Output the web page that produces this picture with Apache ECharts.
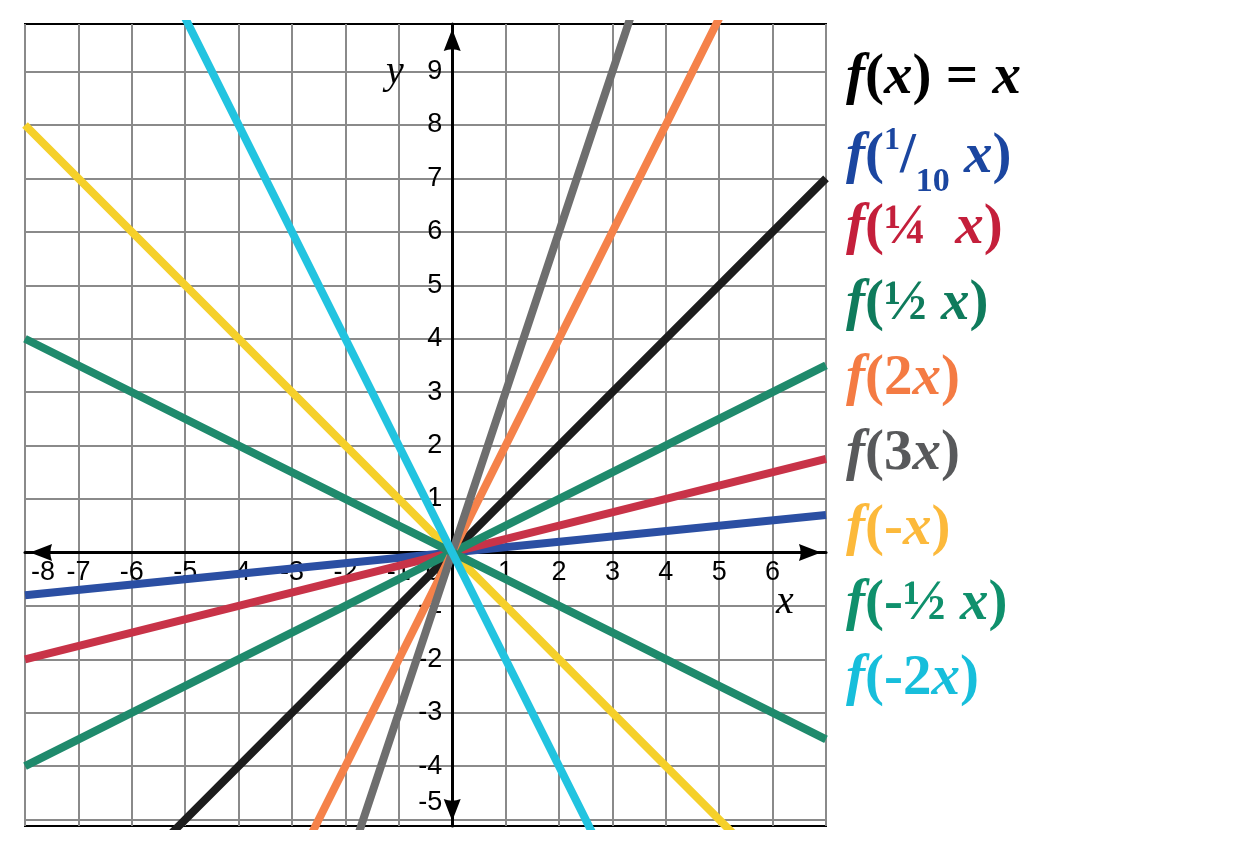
<!DOCTYPE html>
<html>
<head>
<meta charset="utf-8">
<script src="https://cdn.jsdelivr.net/npm/echarts@6/dist/echarts.min.js"></script>
<style>html,body{margin:0;padding:0;background:#fff}#c{width:1234px;height:850px}</style>
</head>
<body>
<div id="c"></div>
<script>
// x positions where each line is sampled
const xs = [-8, 0, 7];
// y values at those x positions
const yIdentity  = [-8, 0, 7];
const yTenth     = [-0.8, 0, 0.7];
const yQuarter   = [-2, 0, 1.75];
const yHalf      = [-4, 0, 3.5];
const yDouble    = [-16, 0, 14];
const yTriple    = [-24, 0, 21];
const yNeg       = [8, 0, -7];
const yNegHalf   = [4, 0, -3.5];
const yNegDouble = [16, 0, -14];

const lineColors = ['#1c1c1c', '#2b4fa3', '#c83348', '#1f8a6c', '#f5824a', '#6e6e6e', '#f5d02a', '#1f8a6c', '#22c4e0'];
const seriesY = [yIdentity, yTenth, yQuarter, yHalf, yDouble, yTriple, yNeg, yNegHalf, yNegDouble];
const seriesNames = ['f(x)=x', 'f(1/10 x)', 'f(1/4 x)', 'f(1/2 x)', 'f(2x)', 'f(3x)', 'f(-x)', 'f(-1/2 x)', 'f(-2x)'];

const X_MIN = -8, X_MAX = 7;
const Y_MIN = -5.12, Y_MAX = 9.89;
const xTickLabels = [-8, -7, -6, -5, -4, -3, -2, -1, 0, 1, 2, 3, 4, 5, 6];
const yGridValues = [-5, -4, -3, -2, -1, 0, 1, 2, 3, 4, 5, 6, 7, 8, 9];
const yTickLabels = [-5, -4, -3, -2, -1, 1, 2, 3, 4, 5, 6, 7, 8, 9];

// legend rows: [text with rich markup, colour]
const legendRows = [
  ['{f|f}{p|(}{f|x}{p|)} {p|=} {f|x}', '#000000'],
  ['{f|f}{p|(}{sup|1}{p|/}{sub|10} {f|x}{p|)}', '#1b46a0'],
  ['{f|f}{p|(}{p|¼}  {f|x}{p|)}', '#c41f3b'],
  ['{f|f}{p|(}{p|½} {f|x}{p|)}', '#0f7b5c'],
  ['{f|f}{p|(2}{f|x}{p|)}', '#f47b43'],
  ['{f|f}{p|(3}{f|x}{p|)}', '#58595b'],
  ['{f|f}{p|(-}{f|x}{p|)}', '#fcb93b'],
  ['{f|f}{p|(-½} {f|x}{p|)}', '#0f906c'],
  ['{f|f}{p|(-2}{f|x}{p|)}', '#17bedb']
];

const chart = echarts.init(document.getElementById('c'), null, {renderer: 'canvas'});

const FS = 57;
const graphics = legendRows.map((r, i) => ({
  type: 'text',
  left: 846,
  top: 80 + i * 75.1 - 30,
  z: 10,
  style: {
    text: r[0],
    fill: r[1],
    rich: {
      f: {fontFamily: 'Liberation Serif', fontStyle: 'italic', fontWeight: 'bold', fontSize: FS, fill: r[1], lineHeight: 64, verticalAlign: 'middle'},
      p: {fontFamily: 'Liberation Serif', fontWeight: 'bold', fontSize: FS, fill: r[1], lineHeight: 64, verticalAlign: 'middle'},
      sup: {fontFamily: 'Liberation Serif', fontWeight: 'bold', fontSize: 32, fill: r[1], lineHeight: 32, verticalAlign: 'top'},
      sub: {fontFamily: 'Liberation Serif', fontWeight: 'bold', fontSize: 34, fill: r[1], lineHeight: 34, verticalAlign: 'bottom', padding: [0, 0, -10, 0]}
    },
    fontFamily: 'Liberation Serif',
    fontSize: FS
  }
}));

graphics.push({
  type: 'text', left: 386, top: 52, z: 10,
  style: {text: 'y', fontFamily: 'Liberation Serif', fontStyle: 'italic', fontSize: 40, fill: '#000'}
});
graphics.push({
  type: 'text', left: 776, top: 582, z: 10,
  style: {text: 'x', fontFamily: 'Liberation Serif', fontStyle: 'italic', fontSize: 40, fill: '#000'}
});

const arrowPath = 'path://M10,0 L20,26 Q10,22 0,26 Z';
const axisLineCommon = {
  show: true,
  onZero: false,
  lineStyle: {color: '#000', width: 3},
  symbol: [arrowPath, arrowPath],
  symbolSize: [17, 26],
  symbolOffset: [16, -16]
};

const labelFont = {color: '#000', fontFamily: 'Liberation Sans', fontSize: 27};

chart.setOption({
  animation: false,
  backgroundColor: '#fff',
  grid: {left: 25, right: 408, top: 24, bottom: 24, show: true, borderColor: '#000', borderWidth: 2,
         containLabel: false, outerBoundsMode: 'none'},
  xAxis: {
    type: 'value', min: X_MIN, max: X_MAX, interval: 1, position: 'bottom', offset: 0,
    axisLine: axisLineCommon,
    axisTick: {show: false},
    splitLine: {show: true, lineStyle: {color: '#8a8a8a', width: 2}},
    axisLabel: Object.assign({
      show: true, margin: 7,
      formatter: v => {
        if (xTickLabels.indexOf(v) < 0) return '';
        if (v === 0) return '{z|0}';
        if (v === -8) return '{m|-8}';
        return String(v);
      },
      rich: {
        z: Object.assign({padding: [0, 38, 0, 0]}, labelFont),
        m: Object.assign({padding: [0, 0, 0, 36]}, labelFont)
      }
    }, labelFont)
  },
  yAxis: {
    type: 'value', min: Y_MIN, max: Y_MAX, position: 'left', offset: 0,
    axisLine: axisLineCommon,
    axisTick: {show: false, customValues: yGridValues},
    splitLine: {show: true, lineStyle: {color: '#8a8a8a', width: 2}},
    axisLabel: Object.assign({
      show: true, margin: 10,
      customValues: yTickLabels,
      formatter: v => v === -5 ? '{m|-5}' : String(v),
      rich: {m: Object.assign({padding: [0, 0, 34, 0]}, labelFont)}
    }, labelFont)
  },
  series: seriesY.map((ys, i) => ({
    type: 'line',
    name: seriesNames[i],
    data: xs.map((x, j) => [x, ys[j]]),
    showSymbol: false,
    symbol: 'none',
    clip: true,
    silent: true,
    lineStyle: {color: lineColors[i], width: 8, cap: 'butt'},
    z: 2 + i * 0.01
  })),
  graphic: graphics
});

// move both axes (line + labels) onto the origin, using the library's own scales
const zeroY = chart.convertToPixel({yAxisIndex: 0}, 0);
const bottomY = chart.convertToPixel({yAxisIndex: 0}, Y_MIN);
const zeroX = chart.convertToPixel({xAxisIndex: 0}, 0);
const leftX = chart.convertToPixel({xAxisIndex: 0}, X_MIN);
chart.setOption({
  xAxis: {offset: -(bottomY - zeroY)},
  yAxis: {offset: -(zeroX - leftX)}
});
</script>
</body>
</html>
